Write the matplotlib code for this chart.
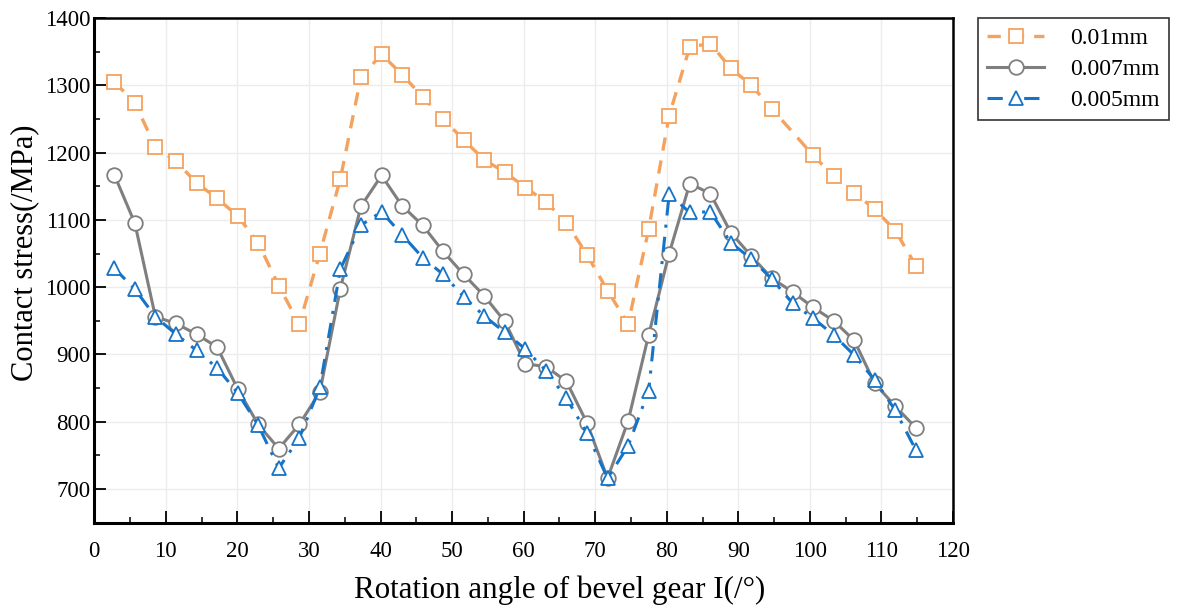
import matplotlib
matplotlib.use("Agg")
import matplotlib.pyplot as plt
from matplotlib.ticker import MultipleLocator

plt.rcParams['font.family'] = ['Liberation Serif', 'DejaVu Serif']

# rotation angle of bevel gear I (deg)
angle = [2.80, 5.67, 8.54, 11.42, 14.29, 17.16, 20.03, 22.90, 25.78, 28.65,
         31.52, 34.39, 37.26, 40.14, 43.01, 45.88, 48.75, 51.62, 54.50, 57.37,
         60.24, 63.11, 65.98, 68.86, 71.73, 74.60, 77.47, 80.34, 83.22, 86.09,
         88.96, 91.83, 94.70, 97.58, 100.45, 103.32, 106.19, 109.06, 111.94, 114.81]

# 0.01mm curve has no marker near 97.6 deg
angle_001 = [a for a in angle if a != 97.58]
stress_001 = [1305, 1274, 1208, 1187, 1155, 1132, 1106, 1066, 1002, 945,
              1050, 1161, 1312, 1346, 1316, 1283, 1250, 1219, 1189, 1171,
              1148, 1127, 1096, 1048, 995, 945, 1086, 1255, 1357, 1362,
              1325, 1300, 1265, 1196, 1165, 1140, 1116, 1084, 1032]
stress_0007 = [1167, 1095, 956, 946, 930, 911, 849, 796, 760, 796,
               844, 998, 1120, 1166, 1121, 1092, 1053, 1019, 987, 949,
               886, 882, 860, 798, 716, 801, 929, 1050, 1154, 1139,
               1081, 1046, 1013, 993, 970, 950, 921, 857, 823, 791]
stress_0005 = [1028, 997, 956, 930, 906, 880, 843, 795, 731, 776,
               851, 1027, 1092, 1112, 1078, 1044, 1019, 986, 957, 933,
               908, 876, 835, 783, 716, 764, 846, 1138, 1111, 1112,
               1066, 1042, 1012, 976, 954, 929, 899, 862, 817, 758]

c_orange = '#F4A25E'
c_gray = '#7F7F7F'
c_blue = '#1573C8'

fig = plt.figure(figsize=(11.8, 6.06), dpi=100)
ax = fig.add_axes([0.0799, 0.1375, 0.7277, 0.8328])

ax.plot(angle_001, stress_001, color=c_orange, lw=2.4, ls=(0, (4, 3)),
        marker='s', ms=9.5, mfc='white', mec=c_orange, mew=1.3, label='0.01mm')
ax.plot(angle, stress_0007, color=c_gray, lw=2.2, ls='-',
        marker='o', ms=10.5, mfc='white', mec=c_gray, mew=1.3, label='0.007mm')
ax.plot(angle, stress_0005, color=c_blue, lw=2.2, ls=(0, (5, 3, 1, 3)),
        marker='^', ms=10.5, mfc='white', mec=c_blue, mew=1.3, label='0.005mm')

ax.set_xlim(0, 120)
ax.set_ylim(650, 1400)
ax.xaxis.set_major_locator(MultipleLocator(10))
ax.xaxis.set_minor_locator(MultipleLocator(5))
ax.set_yticks(range(700, 1401, 100))
ax.yaxis.set_minor_locator(MultipleLocator(50))
ax.tick_params(which='both', direction='in', labelsize=16.5, top=False, right=False)
ax.tick_params(which='major', length=8.5, width=1.3)
ax.tick_params(which='minor', length=4.3, width=1.1)
ax.tick_params(axis='x', pad=13)
ax.tick_params(axis='y', pad=2.5)
ax.grid(True, which='major', color='#ececec', lw=1.0)
ax.set_axisbelow(True)
for s in ax.spines.values():
    s.set_linewidth(1.8)
    s.set_color('black')
ax.spines['left'].set_linewidth(2.2)
ax.spines['bottom'].set_linewidth(2.2)

ax.set_xlabel('Rotation angle of bevel gear I(/°)', fontsize=22.3, labelpad=4)
ax.xaxis.set_label_coords(0.542, -0.105)
ax.set_ylabel('Contact stress(/MPa)', fontsize=22, labelpad=6)
ax.yaxis.set_label_coords(-0.064, 0.535)

leg = ax.legend(loc='upper left', bbox_to_anchor=(1.029, 1.0), fontsize=17,
                frameon=True, fancybox=False, edgecolor='black',
                handlelength=2.4, handletextpad=1.1, labelspacing=0.4,
                borderpad=0.4, borderaxespad=0)
leg.get_frame().set_linewidth(1.2)

fig.savefig('out.png', dpi=100)
